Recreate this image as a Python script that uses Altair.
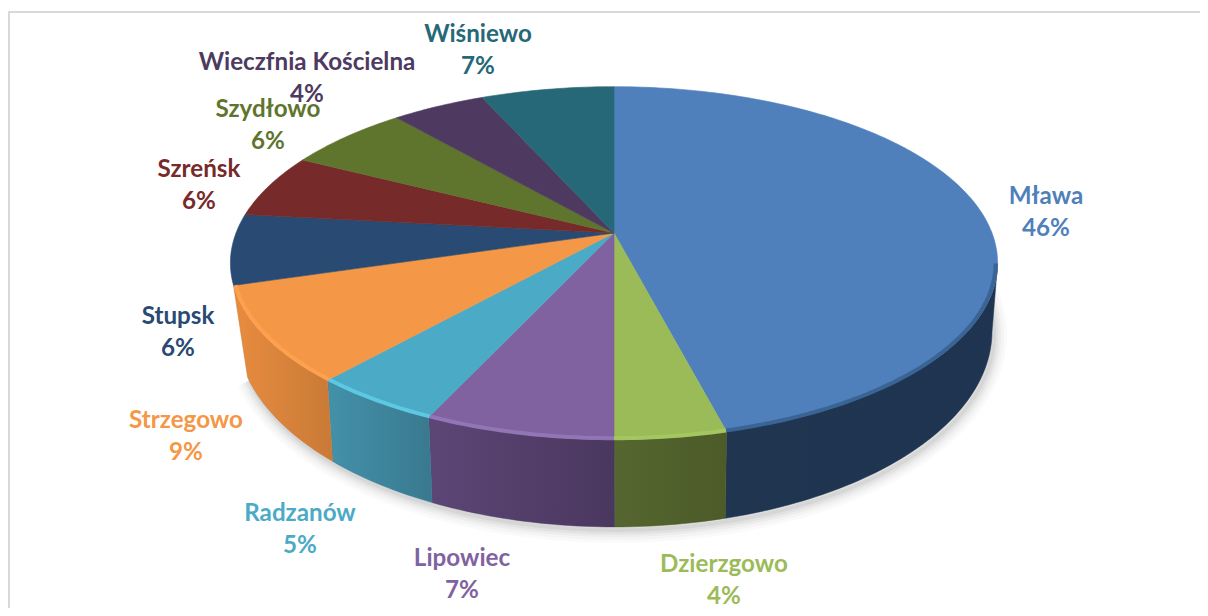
import math
import altair as alt
import pandas as pd

# ---- data ----
names = ["Mława", "Dzierzgowo", "Lipowiec", "Radzanów", "Strzegowo", "Stupsk",
         "Szreńsk", "Szydłowo", "Wieczfnia Kościelna", "Wiśniewo"]
values = [46.0, 4.0, 6.8, 4.7, 8.8, 6.45, 5.85, 6.15, 4.65, 6.6]
percent_labels = ["46%", "4%", "7%", "5%", "9%", "6%", "6%", "6%", "4%", "7%"]

# ---- styles ----
top_colors = ["#4f80bb", "#9bbb59", "#8162a0", "#4baac5", "#f49746", "#294a72",
              "#772a2a", "#5f752e", "#4e3a61", "#266878"]
wall_stops = [("#1f3550", "#1f3450"), ("#556630", "#4c5b28"), ("#5c4676", "#4a375e"),
              ("#4391aa", "#39798f"), ("#e88c40", "#c97a36")]
bevel_colors = {0: "#37608f", 1: "#a6c963", 2: "#9478b8", 3: "#5fcbe4", 4: "#ffa24f"}
label_xy = [(1046, 196.5), (724, 564.5), (462, 558.5), (300, 513.5), (186, 420.5), (178, 316.5),
            (199, 169.5), (268, 109.5), (307, 62.5), (478, 34.5)]
line_gap = 32

# ---- perspective disc geometry ----
APEX_Y, C = 233, 0.17
TOP = dict(cx=614, k=378, a=171.2, y0=APEX_Y)
BOT = dict(cx=614.5, k=372, a=190, y0=298)


def pt(theta, g, inset=1.0):
    X, Y = math.sin(theta), math.cos(theta)
    d = 1 + C * Y
    return g["cx"] + inset * X * g["k"] / d, g["y0"] - inset * Y * g["a"] / d


def arc(a0, a1, g, inset=1.0, step=math.radians(1.0)):
    n = max(2, int(abs(a1 - a0) / step) + 2)
    return [pt(a0 + (a1 - a0) * i / (n - 1), g, inset) for i in range(n)]


def frame(points):
    return pd.DataFrame({"x": [p[0] for p in points], "y": [p[1] for p in points],
                         "i": list(range(len(points)))})


x_enc = alt.X("x:Q", scale=alt.Scale(domain=[8, 1200], nice=False, zero=False), axis=None)
y_enc = alt.Y("y:Q", scale=alt.Scale(domain=[608, 8], nice=False, zero=False), axis=None)
ord_enc = alt.Order("i:Q")


def poly(points, fill, sw=0.6, stroke=None):
    return alt.Chart(frame(points)).mark_line(
        fill=fill, filled=True, stroke=stroke or (fill if isinstance(fill, str) else "#333333"),
        strokeWidth=sw, interpolate="linear", opacity=1
    ).encode(x=x_enc, y=y_enc, order=ord_enc)


def stroke_line(points, color, width, opacity=1.0):
    return alt.Chart(frame(points)).mark_line(
        stroke=color, strokeWidth=width, opacity=opacity, strokeCap="butt", interpolate="linear"
    ).encode(x=x_enc, y=y_enc, order=ord_enc)


total = sum(values)
edges = [0.0]
for v in values:
    edges.append(edges[-1] + v / total * 2 * math.pi)

layers = []

# frame
layers.append(alt.Chart(pd.DataFrame({"a": [0]})).mark_rule(color="#d9d9d9", strokeWidth=2).encode(
    x=alt.value(0), x2=alt.value(1192), y=alt.value(4)))
layers.append(alt.Chart(pd.DataFrame({"a": [0]})).mark_rule(color="#d9d9d9", strokeWidth=2).encode(
    x=alt.value(1), y=alt.value(4), y2=alt.value(600)))

# soft shadow
shadow_arc = [(x + 2, y + 3) for x, y in arc(math.radians(85), edges[5] - math.radians(6), BOT)]
for w, o in [(26, 0.018), (20, 0.022), (14, 0.03), (9, 0.04), (4, 0.05)]:
    layers.append(stroke_line(shadow_arc, "#000000", w, o))

# walls
lo, hi = math.radians(100), edges[5]
for i in range(len(wall_stops)):
    a0, a1 = max(edges[i], lo), min(edges[i + 1], hi)
    # the last visible wall tapers inward at its far end, as in the reference
    b1 = a1 - math.radians(6) if i == len(wall_stops) - 1 else a1
    pts = arc(a0, a1, TOP) + arc(b1, a0, BOT)
    pts.append(pts[0])
    l, r = wall_stops[i]
    grad = alt.LinearGradient(gradient="linear", x1=0, x2=1, y1=0, y2=0,
                              stops=[alt.GradientStop(color=l, offset=0),
                                     alt.GradientStop(color=r, offset=1)])
    layers.append(poly(pts, grad, sw=0.5, stroke=r))

# top faces
for i in range(len(values)):
    pts = [(TOP["cx"], APEX_Y)] + arc(edges[i], edges[i + 1], TOP) + [(TOP["cx"], APEX_Y)]
    layers.append(poly(pts, top_colors[i]))

# bevel highlights along the front rim
for i, c in bevel_colors.items():
    a0 = max(edges[i], lo)
    layers.append(stroke_line(arc(a0, edges[i + 1], TOP, inset=0.995), c, 4, 0.9))

# labels
rows = []
for n, p, (lx, ly), c in zip(names, percent_labels, label_xy, top_colors):
    rows.append({"x": lx, "y": ly, "t": n, "c": c})
    rows.append({"x": lx, "y": ly + line_gap, "t": p, "c": c})
layers.append(alt.Chart(pd.DataFrame(rows)).mark_text(
    font="Lato", fontWeight="bold", fontSize=24.2, align="center", baseline="middle"
).encode(x=x_enc, y=y_enc, text="t:N", color=alt.Color("c:N", scale=None, legend=None)))

chart = alt.layer(*layers).properties(
    width=1192, height=600, padding=0, autosize=alt.AutoSizeParams(type="none"), background="white"
).configure_view(stroke=None)

chart.save("out.html", embed_options={"renderer": "svg", "actions": False})
